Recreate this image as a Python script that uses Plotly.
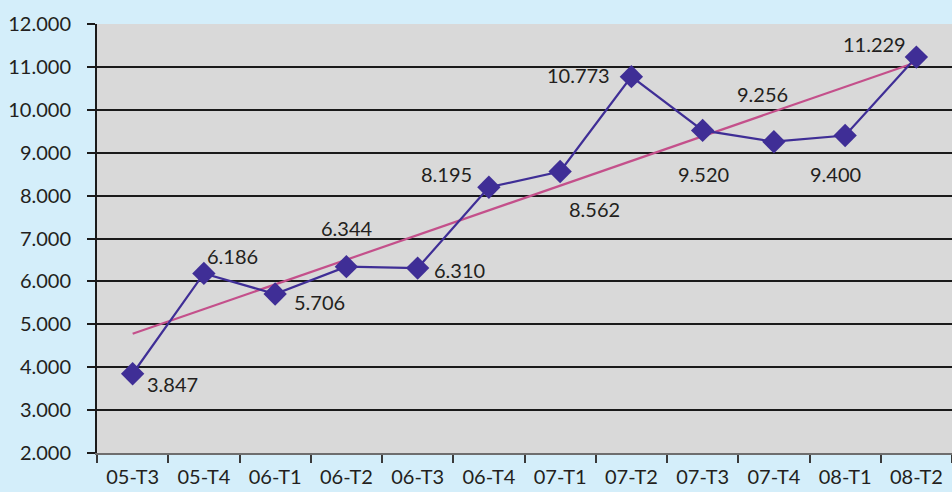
import numpy as np
import plotly.graph_objects as go

categories = ["05-T3", "05-T4", "06-T1", "06-T2", "06-T3", "06-T4",
              "07-T1", "07-T2", "07-T3", "07-T4", "08-T1", "08-T2"]
values = [3847, 6186, 5706, 6344, 6310, 8195, 8562, 10773, 9520, 9256, 9400, 11229]
value_labels = ["3.847", "6.186", "5.706", "6.344", "6.310", "8.195",
                "8.562", "10.773", "9.520", "9.256", "9.400", "11.229"]
y_ticks = [2000, 3000, 4000, 5000, 6000, 7000, 8000, 9000, 10000, 11000, 12000]
y_tick_labels = ["2.000", "3.000", "4.000", "5.000", "6.000", "7.000",
                 "8.000", "9.000", "10.000", "11.000", "12.000"]

# label offsets (pixels) relative to each point
label_shifts = [(40, -10), (29, 17), (44, -8), (1, 39), (42, -2), (-42, 13),
                (34, -38), (-53, 2), (1, -44), (-11, 48), (-10, -38), (-42, 13)]

# linear trendline (least squares) from the data
idx = np.arange(len(values))
slope, intercept = np.polyfit(idx, values, 1)
trend_x = [categories[0], categories[-1]]
trend_y = [intercept, intercept + slope * (len(values) - 1)]

text_color = "#231f20"
font_family = "Lato, 'Open Sans', sans-serif"

fig = go.Figure()
fig.add_trace(go.Scatter(
    x=trend_x, y=trend_y, mode="lines",
    line=dict(color="#c4508b", width=2.2), hoverinfo="skip", showlegend=False))
fig.add_trace(go.Scatter(
    x=categories, y=values, mode="lines+markers",
    line=dict(color="#3f2e96", width=2.2),
    marker=dict(symbol="diamond", size=18, color="#3f2e96"),
    showlegend=False))

for c, v, lab, (dx, dy) in zip(categories, values, value_labels, label_shifts):
    fig.add_annotation(x=c, y=v, text=lab, showarrow=False,
                       xshift=dx, yshift=dy,
                       font=dict(size=20, color=text_color, family=font_family))

fig.update_layout(
    width=952, height=492,
    margin=dict(l=97, r=0, t=24, b=39),
    paper_bgcolor="#d4eefa",
    plot_bgcolor="#d9d9d9",
    font=dict(family=font_family, size=20, color=text_color),
    xaxis=dict(
        type="category", categoryorder="array", categoryarray=categories,
        range=[-0.5, len(categories) - 0.5],
        showgrid=False, tickson="boundaries", ticks="outside", ticklen=8,
        tickcolor="#3a3a3a", tickwidth=1.5, ticklabelstandoff=5,
        showline=True, linecolor="#6e6e6e", linewidth=1.5,
        tickfont=dict(size=20, color=text_color, family=font_family),
        zeroline=False,
    ),
    yaxis=dict(
        range=[2000, 12000], tickvals=y_ticks, ticktext=y_tick_labels,
        showgrid=True, gridcolor="#1a1a1a", gridwidth=2,
        ticks="outside", ticklen=8, tickcolor="#1a1a1a", tickwidth=2,
        ticklabelstandoff=12,
        showline=True, linecolor="#1a1a1a", linewidth=2,
        tickfont=dict(size=20, color=text_color, family=font_family),
        zeroline=False,
    ),
)

fig.write_html("out.html", config={"displayModeBar": False},
               post_script="document.body.style.margin='0';document.body.style.padding='0';")
